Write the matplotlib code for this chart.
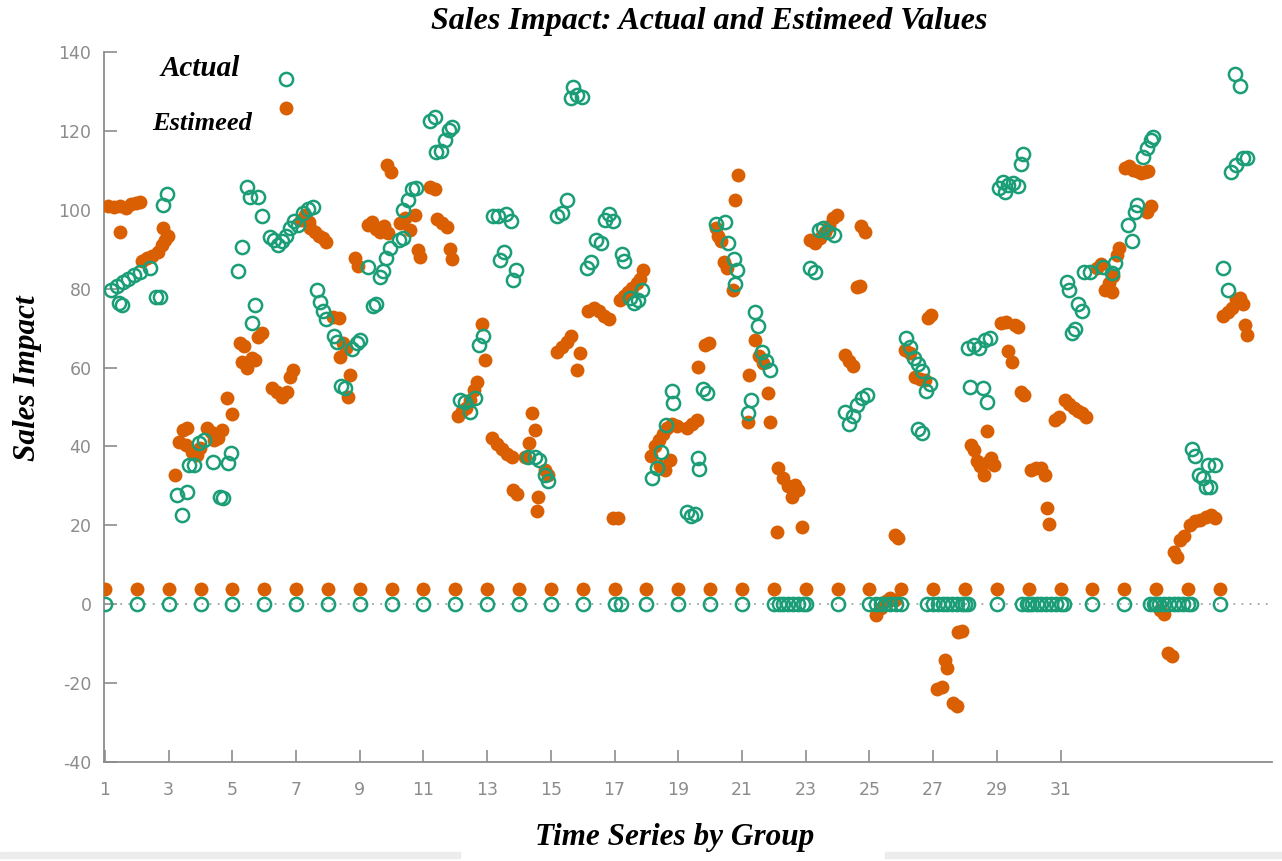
import matplotlib
matplotlib.use("Agg")
import matplotlib.pyplot as plt
from matplotlib.patches import Rectangle

plt.rcParams["axes.unicode_minus"] = False

# group positions: every group starts with a baseline reading
groups = list(range(1, 37))
est_base = [3.8] * len(groups)
act_base = [0.0] * len(groups)

# estimated values (x = position in time series, y = sales impact)
est_points = [
    (1.09, 101.0), (1.28, 100.8), (1.47, 101.0), (1.66, 100.5), (1.82, 101.5), (1.97, 101.8),
    (2.10, 102.0), (1.47, 94.4), (2.16, 87.1), (2.32, 87.8), (2.48, 88.3), (2.66, 89.3),
    (2.79, 91.1), (2.88, 92.4), (2.97, 93.4), (2.82, 95.4),
    (3.20, 32.7), (3.32, 41.1), (3.45, 44.2), (3.57, 44.7), (3.54, 40.4), (3.73, 38.6),
    (3.89, 37.8), (3.98, 39.6), (4.20, 44.7), (4.33, 43.7), (4.42, 41.6), (4.55, 42.1),
    (4.67, 44.2), (4.83, 52.3), (4.99, 48.2),
    (5.24, 66.2), (5.37, 65.5), (5.30, 61.4), (5.46, 59.9), (5.62, 62.4), (5.71, 61.9),
    (5.80, 67.8), (5.93, 68.8), (6.24, 54.8), (6.40, 53.8), (6.56, 52.5), (6.71, 53.8),
    (6.81, 57.6), (6.90, 59.4), (6.68, 125.9),
    (7.15, 97.5), (7.28, 98.7), (7.40, 97.0), (7.44, 95.4), (7.59, 94.4), (7.72, 93.4),
    (7.84, 92.9), (7.94, 91.9), (8.16, 72.8), (8.35, 72.6), (8.47, 66.2), (8.57, 65.0),
    (8.38, 62.7), (8.69, 58.1), (8.63, 52.5),
    (8.85, 87.8), (8.94, 85.8), (9.26, 96.2), (9.38, 97.0), (9.51, 95.2), (9.63, 94.4),
    (9.76, 95.9), (9.88, 94.2), (9.85, 111.4), (9.98, 109.6), (10.26, 96.7), (10.42, 98.0),
    (10.58, 94.9), (10.73, 98.7), (10.83, 89.8), (10.89, 88.1), (11.20, 105.8), (11.36, 105.3),
    (11.42, 97.7), (11.58, 96.7), (11.74, 95.7), (11.83, 90.1), (11.90, 87.6),
    (12.08, 47.7), (12.21, 49.0), (12.33, 49.7), (12.46, 51.8), (12.58, 54.3), (12.68, 56.3),
    (12.84, 71.1), (12.93, 61.9),
    (13.15, 42.1), (13.31, 40.6), (13.47, 39.3), (13.62, 38.1), (13.78, 37.3), (13.81, 28.9),
    (13.94, 27.9), (14.19, 37.3), (14.31, 40.9), (14.41, 48.5), (14.50, 44.2), (14.60, 27.2),
    (14.56, 23.6), (14.82, 34.0), (14.91, 32.7),
    (15.19, 64.0), (15.35, 65.2), (15.50, 66.5), (15.63, 68.0), (15.82, 59.4), (15.92, 63.7),
    (16.17, 74.4), (16.35, 75.1), (16.51, 74.4), (16.67, 73.1), (16.82, 72.3), (16.95, 21.8),
    (17.10, 21.8), (17.17, 77.2), (17.30, 78.2), (17.42, 79.2), (17.55, 80.2), (17.71, 81.5),
    (17.80, 82.5), (17.90, 84.8),
    (18.14, 37.6), (18.27, 40.1), (18.39, 41.6), (18.52, 43.1), (18.65, 44.7), (18.81, 45.7),
    (18.96, 45.2), (18.43, 35.0), (18.59, 34.0), (18.74, 36.5), (19.27, 44.7), (19.43, 45.7),
    (19.59, 46.7), (19.62, 60.2), (19.84, 65.7), (19.96, 66.2),
    (20.18, 95.4), (20.24, 93.4), (20.34, 92.1), (20.43, 86.8), (20.53, 85.3), (20.72, 79.7),
    (20.79, 102.5), (20.87, 108.9), (21.22, 58.1), (21.19, 46.2), (21.41, 67.0), (21.53, 62.9),
    (21.66, 61.2), (21.82, 53.6), (21.88, 46.2),
    (22.10, 18.3), (22.13, 34.5), (22.29, 32.0), (22.45, 29.9), (22.57, 27.2), (22.67, 30.2),
    (22.76, 28.9), (22.88, 19.5),
    (23.13, 92.4), (23.29, 91.6), (23.45, 92.9), (23.61, 94.4), (23.73, 95.9), (23.86, 98.0),
    (23.99, 98.7), (24.23, 63.2), (24.36, 61.7), (24.48, 60.4), (24.61, 80.5), (24.70, 80.7),
    (24.74, 95.9), (24.86, 94.4),
    (25.21, -2.8), (25.36, -1.0), (25.52, 0.8), (25.65, 1.5), (25.81, 1.0), (25.81, 17.5),
    (25.90, 16.8),
    (26.12, 64.5), (26.28, 63.7), (26.43, 57.6), (26.59, 57.1), (26.75, 56.9), (26.84, 72.6),
    (26.93, 73.4), (27.12, -21.6), (27.28, -21.1), (27.37, -14.2), (27.44, -16.2), (27.63, -25.1),
    (27.75, -25.9), (27.79, -7.1), (27.91, -6.9),
    (28.19, 40.4), (28.28, 39.1), (28.38, 36.3), (28.47, 35.0), (28.60, 32.7), (28.69, 43.9),
    (28.72, 36.0), (28.82, 37.1), (28.92, 35.3), (29.13, 71.3), (29.29, 71.6), (29.57, 70.8),
    (29.67, 70.3), (29.35, 64.2), (29.48, 61.4), (29.76, 53.8), (29.85, 53.0),
    (30.07, 34.0), (30.23, 34.5), (30.39, 34.5), (30.51, 32.7), (30.57, 24.4), (30.64, 20.3),
    (30.83, 46.7), (30.95, 47.5), (31.14, 51.8), (31.27, 50.8), (31.42, 49.7), (31.55, 49.0),
    (31.67, 48.5), (31.80, 47.5), (32.15, 85.3), (32.27, 86.3), (32.40, 79.7), (32.53, 81.5),
    (32.65, 83.2), (32.62, 79.2), (32.77, 88.6), (32.84, 90.4),
    (33.03, 110.7), (33.15, 111.2), (33.28, 110.2), (33.40, 109.9), (33.53, 109.4), (33.65, 109.6),
    (33.75, 109.9), (33.72, 99.5), (33.84, 101.0),
    (34.13, -1.5), (34.25, -2.5), (34.38, -12.4), (34.50, -13.2), (34.56, 13.2), (34.66, 11.9),
    (34.75, 16.2), (34.88, 17.3), (35.07, 20.1), (35.22, 21.1), (35.38, 21.3), (35.57, 22.1),
    (35.73, 22.6), (35.85, 21.8),
    (36.10, 73.1), (36.26, 74.1), (36.39, 75.1), (36.51, 77.4), (36.64, 77.7), (36.73, 76.1),
    (36.79, 70.8), (36.86, 68.3),
]

# actual values
act_points = [
    (1.19, 79.7), (1.38, 80.7), (1.57, 81.7), (1.72, 82.5), (1.91, 83.5), (2.10, 84.3),
    (1.44, 76.4), (1.53, 75.9), (2.41, 85.3), (2.60, 77.9), (2.73, 77.9), (2.82, 101.3),
    (2.95, 104.1),
    (3.26, 27.7), (3.42, 22.6), (3.57, 28.4), (3.64, 35.3), (3.80, 35.3), (3.95, 40.9),
    (4.11, 41.6), (4.39, 36.0), (4.61, 27.2), (4.71, 26.9), (4.86, 35.8), (4.96, 38.3),
    (5.18, 84.5), (5.30, 90.6), (5.46, 105.8), (5.55, 103.3), (5.80, 103.3), (5.93, 98.5),
    (5.62, 71.3), (5.71, 75.9), (6.18, 93.1), (6.31, 92.4), (6.43, 91.1), (6.56, 92.1),
    (6.68, 93.4), (6.81, 95.4), (6.94, 97.2), (6.68, 133.2), (7.06, 96.2),
    (7.22, 99.2), (7.37, 100.3), (7.53, 100.8), (7.66, 79.7), (7.75, 76.6), (7.85, 74.4),
    (7.94, 72.3), (8.19, 68.0), (8.28, 66.5), (8.41, 55.3), (8.53, 54.8), (8.75, 64.7),
    (8.91, 66.2), (9.00, 67.0),
    (9.26, 85.5), (9.42, 75.6), (9.51, 76.1), (9.63, 83.0), (9.73, 84.5), (9.82, 87.8),
    (9.95, 90.4), (10.23, 92.4), (10.36, 92.9), (10.36, 100.0), (10.51, 102.5), (10.64, 105.3),
    (10.76, 105.6), (11.20, 122.6), (11.36, 123.4), (11.39, 114.7), (11.55, 115.0), (11.68, 117.8),
    (11.80, 120.1), (11.90, 121.1),
    (12.15, 51.8), (12.30, 51.3), (12.46, 48.7), (12.62, 52.3), (12.74, 65.7), (12.87, 68.0),
    (13.18, 98.5), (13.34, 98.5), (13.59, 99.0), (13.75, 97.2), (13.40, 87.3), (13.53, 89.3),
    (13.81, 82.2), (13.90, 84.8), (14.28, 37.3), (14.50, 37.3), (14.63, 36.5), (14.82, 32.7),
    (14.91, 31.2),
    (15.19, 98.5), (15.35, 99.2), (15.50, 102.5), (15.63, 128.4), (15.70, 131.2), (15.82, 129.2),
    (15.98, 128.7),
    (16.13, 85.3), (16.26, 86.8), (16.42, 92.4), (16.58, 91.6), (16.70, 97.5), (16.82, 99.0),
    (16.95, 97.2), (17.23, 88.8), (17.30, 87.1), (17.48, 77.7), (17.60, 76.4), (17.73, 77.2),
    (17.86, 79.7),
    (18.17, 32.0), (18.33, 34.5), (18.46, 38.6), (18.61, 45.4), (18.80, 54.1), (18.83, 51.0),
    (19.27, 23.4), (19.40, 22.3), (19.52, 22.8), (19.62, 37.1), (19.65, 34.3), (19.78, 54.6),
    (19.90, 53.6),
    (20.18, 96.4), (20.47, 97.0), (20.56, 91.6), (20.75, 87.6), (20.84, 84.8), (20.79, 81.2),
    (21.19, 48.5), (21.28, 51.8), (21.41, 74.1), (21.50, 70.6), (21.63, 64.0), (21.75, 61.7),
    (21.88, 59.4),
    (23.13, 85.3), (23.29, 84.3), (23.42, 94.9), (23.54, 95.4), (23.70, 94.4), (23.89, 93.7),
    (24.23, 48.7), (24.36, 45.7), (24.48, 47.7), (24.61, 50.5), (24.77, 52.3), (24.93, 53.0),
    (26.15, 67.5), (26.28, 65.2), (26.40, 62.4), (26.53, 60.9), (26.65, 59.1), (26.78, 54.1),
    (26.91, 55.8), (26.53, 44.4), (26.65, 43.4),
    (28.16, 55.1), (28.10, 65.0), (28.28, 65.7), (28.44, 65.0), (28.63, 67.0), (28.79, 67.5),
    (28.57, 54.8), (28.69, 51.3),
    (29.07, 105.6), (29.20, 107.1), (29.35, 106.3), (29.51, 106.9), (29.67, 106.1), (29.26, 104.6),
    (29.76, 111.7), (29.82, 114.2),
    (31.21, 81.7), (31.27, 79.7), (31.36, 68.8), (31.46, 69.8), (31.55, 76.1), (31.67, 74.4),
    (31.74, 84.3), (31.93, 84.3), (32.33, 85.5), (32.62, 84.0), (32.71, 86.5), (33.12, 96.2),
    (33.24, 92.1), (33.34, 99.5), (33.40, 101.3),
    (33.59, 113.5), (33.72, 115.7), (33.84, 117.8), (33.90, 118.5),
    (35.13, 39.3), (35.22, 37.6), (35.35, 32.7), (35.48, 32.0), (35.57, 29.7), (35.70, 29.7),
    (35.63, 35.3), (35.85, 35.3),
    (36.10, 85.3), (36.26, 79.7), (36.35, 109.6), (36.51, 111.4), (36.73, 113.2), (36.86, 113.2),
    (36.48, 134.5), (36.64, 131.5),
]

# actual readings of zero between groups
act_zero_x = [
    17.2, 22.15, 22.3, 22.45, 22.6, 22.75, 22.9, 25.2, 25.35, 25.5, 25.65, 25.85,
    26.8, 27.15, 27.3, 27.45, 27.6, 27.75, 27.9, 28.1,
    29.8, 29.95, 30.1, 30.25, 30.4, 30.55, 30.7, 30.85, 31.1,
    33.8, 33.95, 34.1, 34.25, 34.4, 34.55, 34.7, 34.85, 35.1,
]

xtick_vals = list(range(1, 32, 2))
ytick_vals = list(range(-40, 141, 20))

green = "#1b9e77"
orange = "#d95f02"
grey = "#8c8c8c"
serif = ["Liberation Serif", "DejaVu Serif"]

fig = plt.figure(figsize=(12.82, 8.61), dpi=100)
ax = fig.add_axes([104 / 1282, 1 - 762 / 861, 1168 / 1282, 710 / 861])

ax.axhline(0, color="#9aa8a2", linestyle=(0, (1, 3.5)), linewidth=1.3, zorder=1)

ex = [p[0] for p in est_points] + groups
ey = [p[1] for p in est_points] + est_base
ax.plot(ex, ey, "o", color=orange, markersize=10, markeredgewidth=0, zorder=3)

axx = [p[0] for p in act_points] + groups + act_zero_x
axy = [p[1] for p in act_points] + act_base + [0.0] * len(act_zero_x)
ax.plot(axx, axy, "o", markerfacecolor="none", markeredgecolor=green,
        markersize=9.5, markeredgewidth=1.8, zorder=4)

ax.set_xlim(0.97, 37.64)
ax.set_ylim(-40, 140)
ax.set_xticks(xtick_vals)
ax.set_yticks(ytick_vals)
ax.tick_params(direction="in", length=9, width=1.2, color=grey, labelcolor=grey,
               labelsize=12.5)
ax.tick_params(axis="x", pad=14)
ax.tick_params(axis="y", pad=9)
for s in ["top", "right"]:
    ax.spines[s].set_visible(False)
for s in ["left", "bottom"]:
    ax.spines[s].set_color(grey)
    ax.spines[s].set_linewidth(1.3)

fig.text(709 / 1282, 1 - 21 / 861, "Sales Impact: Actual and Estimeed Values",
         ha="center", va="center", fontsize=23, fontweight="bold", style="italic", family=serif)
fig.text(675 / 1282, 1 - 838 / 861, "Time Series by Group", ha="center", va="center",
         fontsize=22.5, fontweight="bold", style="italic", family=serif)
fig.text(28 / 1282, 1 - 378 / 861, "Sales Impact", ha="center", va="center", rotation=90,
         fontsize=22.5, fontweight="bold", style="italic", family=serif)
fig.text(200 / 1282, 1 - 68 / 861, "Actual", ha="center", va="center",
         fontsize=21, fontweight="bold", style="italic", family=serif)
fig.text(202 / 1282, 1 - 124 / 861, "Estimeed", ha="center", va="center",
         fontsize=19, fontweight="bold", style="italic", family=serif)

# faint bars along the bottom edge
fig.add_artist(Rectangle((0, 1 - 858 / 861), 460 / 1282, 6 / 861, transform=fig.transFigure,
                         color="#ececec", zorder=0))
fig.add_artist(Rectangle((885 / 1282, 1 - 858 / 861), 397 / 1282, 6 / 861,
                         transform=fig.transFigure, color="#ececec", zorder=0))

fig.savefig("out.png", dpi=100)
